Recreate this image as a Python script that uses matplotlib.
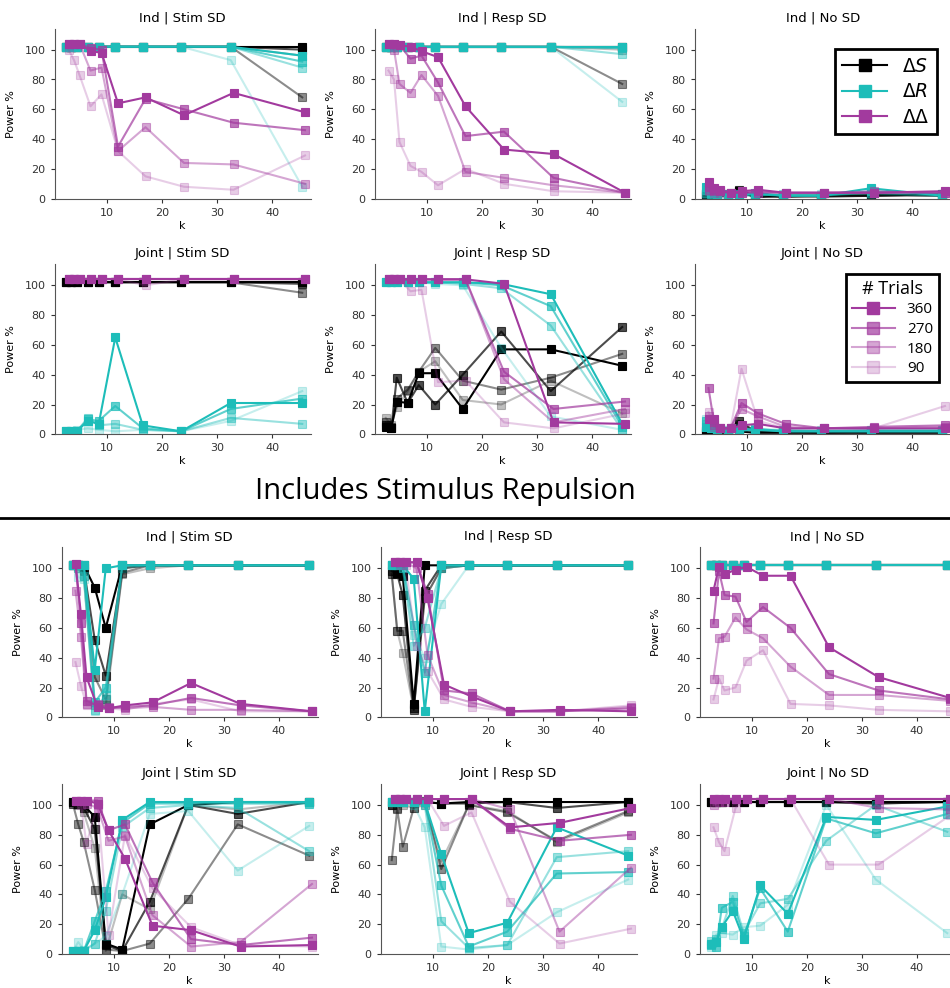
import matplotlib
matplotlib.use("Agg")
import matplotlib.pyplot as plt
from matplotlib.lines import Line2D

# k values (number of sessions); S and R series are drawn slightly left of k
K = [3, 4, 5, 7, 9, 12, 17, 24, 33, 46]
TRIALS = [360, 270, 180, 90]

# ---- top block: no stimulus repulsion ----
# each list holds the 360, 270, 180, 90 trial curves
base_ind_stim_S = [[102, 102, 102, 102, 102, 102, 102, 102, 102, 102],
                   [102, 102, 102, 102, 102, 102, 102, 102, 102, 100],
                   [102, 102, 102, 102, 102, 102, 102, 102, 102, 68],
                   [102, 102, 102, 102, 102, 102, 102, 102, 102, 96]]
base_ind_stim_R = [[102, 102, 102, 102, 102, 102, 102, 102, 102, 96],
                   [102, 102, 102, 102, 102, 102, 102, 102, 102, 92],
                   [102, 102, 102, 102, 102, 102, 102, 102, 102, 88],
                   [102, 102, 102, 102, 102, 102, 102, 102, 93, 8]]
base_ind_stim_D = [[104, 104, 104, 99, 98, 64, 68, 56, 71, 58],
                   [104, 104, 104, 101, 100, 35, 67, 60, 51, 46],
                   [104, 104, 104, 86, 88, 32, 48, 24, 23, 10],
                   [100, 93, 83, 62, 70, 32, 15, 8, 6, 29]]

base_ind_resp_S = [[102, 102, 102, 102, 102, 102, 102, 102, 102, 102],
                   [102, 102, 102, 102, 102, 102, 102, 102, 102, 102],
                   [102, 102, 102, 102, 102, 102, 102, 102, 102, 77],
                   [102, 102, 102, 102, 102, 102, 102, 102, 102, 100]]
base_ind_resp_R = [[102, 102, 102, 102, 102, 102, 102, 102, 102, 102],
                   [102, 102, 102, 102, 102, 102, 102, 102, 102, 101],
                   [102, 102, 102, 102, 102, 102, 102, 102, 102, 97],
                   [102, 102, 102, 102, 102, 102, 102, 102, 102, 65]]
base_ind_resp_D = [[104, 104, 103, 102, 99, 95, 62, 33, 30, 4],
                   [104, 104, 103, 94, 96, 78, 42, 45, 14, 4],
                   [104, 100, 77, 71, 83, 69, 18, 14, 9, 4],
                   [86, 80, 38, 22, 18, 9, 20, 10, 5, 4]]

base_ind_none_S = [[3, 2, 3, 2, 5, 1, 2, 2, 2, 3],
                   [2, 3, 2, 2, 6, 2, 1, 2, 3, 2],
                   [3, 2, 2, 3, 4, 2, 2, 1, 2, 2],
                   [2, 2, 3, 2, 3, 2, 2, 2, 2, 3]]
base_ind_none_R = [[8, 4, 3, 2, 2, 4, 2, 2, 7, 2],
                   [6, 3, 2, 3, 3, 3, 2, 2, 5, 3],
                   [4, 5, 3, 2, 2, 2, 3, 2, 4, 2],
                   [3, 2, 2, 3, 2, 3, 2, 3, 3, 2]]
base_ind_none_D = [[11, 7, 6, 4, 5, 6, 4, 4, 4, 5],
                   [8, 6, 5, 4, 4, 5, 4, 4, 4, 4],
                   [6, 5, 5, 4, 4, 4, 4, 4, 5, 4],
                   [5, 4, 4, 4, 4, 4, 4, 4, 4, 5]]

base_joint_stim_S = [[102, 102, 102, 102, 102, 102, 102, 102, 102, 102],
                     [102, 102, 102, 102, 102, 102, 102, 102, 102, 101],
                     [102, 102, 102, 102, 102, 102, 102, 102, 102, 95],
                     [102, 102, 102, 102, 102, 102, 102, 102, 102, 102]]
base_joint_stim_R = [[2, 2, 2, 9, 7, 65, 6, 2, 21, 21],
                     [2, 2, 2, 10, 9, 19, 4, 2, 17, 24],
                     [2, 2, 2, 11, 6, 7, 3, 2, 11, 7],
                     [2, 2, 3, 4, 3, 2, 3, 2, 9, 29]]
base_joint_stim_D = [[104, 104, 104, 104, 104, 104, 104, 104, 104, 104],
                     [104, 104, 104, 104, 104, 104, 104, 104, 104, 104],
                     [104, 104, 104, 104, 104, 104, 104, 104, 104, 104],
                     [104, 104, 104, 104, 104, 104, 100, 104, 104, 104]]

base_joint_resp_S = [[5, 4, 22, 21, 41, 41, 17, 57, 57, 46],
                     [6, 4, 38, 21, 33, 20, 40, 69, 29, 72],
                     [8, 5, 24, 30, 42, 58, 36, 30, 38, 54],
                     [11, 6, 18, 29, 42, 49, 23, 20, 36, 14]]
base_joint_resp_R = [[102, 102, 102, 102, 102, 102, 102, 101, 94, 7],
                     [102, 102, 102, 102, 102, 102, 102, 100, 86, 5],
                     [102, 102, 102, 102, 102, 102, 101, 98, 73, 3],
                     [102, 102, 102, 102, 102, 101, 100, 58, 12, 3]]
base_joint_resp_D = [[104, 104, 104, 104, 104, 104, 104, 101, 8, 7],
                     [104, 104, 104, 104, 104, 104, 104, 42, 17, 22],
                     [104, 104, 104, 104, 104, 104, 104, 37, 8, 17],
                     [104, 104, 104, 96, 97, 35, 36, 8, 4, 14]]

base_joint_none_S = [[1, 1, 1, 1, 2, 1, 1, 1, 1, 1],
                     [2, 1, 1, 2, 9, 2, 2, 1, 2, 2],
                     [3, 2, 1, 2, 7, 2, 2, 2, 2, 2],
                     [2, 2, 2, 2, 4, 2, 2, 2, 2, 2]]
base_joint_none_R = [[5, 4, 2, 2, 3, 3, 2, 2, 2, 2],
                     [9, 5, 2, 2, 3, 4, 2, 2, 2, 2],
                     [7, 4, 3, 2, 2, 3, 3, 2, 3, 3],
                     [10, 5, 3, 3, 4, 3, 3, 3, 3, 3]]
base_joint_none_D = [[10, 10, 4, 4, 6, 7, 4, 4, 4, 4],
                     [31, 8, 4, 4, 21, 14, 7, 4, 5, 6],
                     [12, 6, 4, 4, 17, 12, 5, 4, 4, 5],
                     [15, 5, 4, 4, 44, 9, 4, 4, 4, 19]]

# ---- bottom block: includes stimulus repulsion ----
rep_ind_stim_S = [[102, 102, 102, 87, 60, 102, 102, 102, 102, 102],
                  [102, 102, 100, 52, 28, 100, 102, 102, 102, 102],
                  [102, 102, 98, 27, 12, 97, 102, 102, 102, 102],
                  [102, 100, 95, 8, 8, 96, 100, 102, 102, 102]]
rep_ind_stim_R = [[102, 102, 102, 32, 100, 102, 102, 102, 102, 102],
                  [102, 102, 102, 10, 20, 102, 102, 102, 102, 102],
                  [102, 100, 95, 5, 15, 102, 102, 102, 102, 102],
                  [102, 94, 93, 4, 12, 100, 102, 102, 102, 102]]
rep_ind_stim_D = [[103, 69, 27, 7, 6, 8, 10, 23, 9, 4],
                  [103, 63, 11, 8, 6, 7, 8, 13, 8, 4],
                  [85, 54, 9, 9, 7, 6, 7, 5, 5, 4],
                  [37, 21, 8, 8, 6, 5, 9, 12, 4, 4]]

rep_ind_resp_S = [[102, 97, 95, 9, 102, 102, 102, 102, 102, 102],
                  [98, 96, 82, 6, 85, 102, 102, 102, 102, 102],
                  [96, 58, 58, 5, 80, 100, 102, 102, 102, 102],
                  [96, 58, 43, 5, 80, 100, 102, 102, 102, 102]]
rep_ind_resp_R = [[102, 102, 102, 93, 4, 102, 102, 102, 102, 102],
                  [102, 102, 102, 62, 30, 102, 102, 102, 102, 102],
                  [102, 102, 100, 48, 60, 100, 102, 102, 102, 102],
                  [102, 102, 100, 55, 40, 76, 102, 102, 102, 102]]
rep_ind_resp_D = [[104, 104, 104, 104, 80, 22, 14, 4, 5, 4],
                  [104, 104, 104, 104, 83, 18, 16, 4, 4, 6],
                  [104, 104, 104, 100, 42, 15, 10, 4, 4, 7],
                  [104, 102, 102, 48, 31, 12, 7, 4, 4, 8]]

rep_ind_none_S = [[102, 102, 102, 102, 102, 102, 102, 102, 102, 102],
                  [102, 102, 102, 102, 102, 102, 102, 102, 102, 102],
                  [102, 102, 102, 102, 102, 102, 102, 102, 102, 102],
                  [102, 102, 102, 102, 102, 102, 102, 102, 102, 102]]
rep_ind_none_R = [[102, 102, 102, 102, 102, 102, 102, 102, 102, 102],
                  [102, 102, 102, 102, 102, 102, 102, 102, 102, 102],
                  [102, 102, 102, 102, 102, 102, 102, 102, 102, 102],
                  [102, 102, 102, 102, 102, 102, 102, 102, 102, 102]]
rep_ind_none_D = [[85, 101, 96, 99, 101, 95, 95, 47, 27, 13],
                  [63, 98, 82, 81, 64, 74, 60, 29, 18, 12],
                  [26, 53, 54, 67, 59, 53, 34, 15, 15, 11],
                  [12, 26, 18, 20, 38, 45, 9, 8, 5, 4]]

rep_joint_stim_S = [[102, 102, 100, 92, 7, 3, 87, 100, 102, 102],
                    [102, 101, 98, 84, 6, 2, 35, 100, 94, 102],
                    [101, 87, 75, 43, 3, 2, 7, 37, 87, 66],
                    [101, 100, 95, 71, 2, 40, 30, 100, 97, 102]]
rep_joint_stim_R = [[2, 2, 2, 16, 38, 90, 102, 102, 102, 102],
                    [2, 2, 2, 22, 42, 88, 101, 101, 101, 101],
                    [2, 2, 2, 7, 29, 85, 98, 100, 98, 69],
                    [2, 8, 3, 7, 12, 40, 94, 96, 56, 86]]
rep_joint_stim_D = [[103, 103, 103, 101, 83, 64, 19, 16, 5, 6],
                    [103, 103, 103, 103, 83, 87, 48, 10, 6, 11],
                    [103, 103, 101, 98, 76, 79, 26, 5, 8, 47],
                    [103, 100, 74, 100, 13, 80, 44, 18, 6, 5]]

rep_joint_resp_S = [[102, 102, 102, 102, 102, 101, 102, 102, 102, 102],
                    [100, 102, 102, 102, 102, 101, 101, 102, 98, 102],
                    [63, 97, 72, 98, 103, 57, 100, 95, 76, 96],
                    [100, 98, 100, 98, 100, 62, 100, 96, 75, 95]]
rep_joint_resp_R = [[102, 102, 102, 102, 102, 67, 14, 21, 85, 66],
                    [102, 102, 102, 102, 102, 46, 5, 15, 54, 55],
                    [102, 102, 102, 102, 100, 22, 4, 6, 65, 69],
                    [102, 102, 102, 100, 85, 5, 3, 6, 28, 50]]
rep_joint_resp_D = [[104, 104, 104, 104, 104, 104, 104, 85, 88, 98],
                    [104, 104, 104, 104, 104, 104, 104, 84, 76, 80],
                    [104, 104, 104, 104, 104, 104, 104, 97, 15, 58],
                    [104, 104, 104, 104, 104, 86, 95, 35, 7, 17]]

rep_joint_none_S = [[102, 102, 102, 102, 102, 102, 102, 102, 102, 102],
                    [102, 102, 102, 102, 102, 102, 102, 102, 101, 102],
                    [102, 102, 102, 102, 102, 102, 102, 102, 101, 102],
                    [102, 102, 102, 102, 102, 102, 102, 102, 102, 102]]
rep_joint_none_R = [[7, 8, 18, 29, 10, 46, 27, 92, 90, 99],
                    [6, 5, 31, 35, 12, 44, 15, 91, 81, 94],
                    [9, 10, 17, 39, 14, 34, 37, 76, 100, 82],
                    [5, 13, 14, 13, 18, 19, 33, 100, 50, 14]]
rep_joint_none_D = [[104, 104, 104, 104, 104, 104, 104, 104, 104, 104],
                    [104, 104, 104, 104, 104, 104, 104, 104, 104, 104],
                    [100, 102, 102, 104, 104, 104, 104, 104, 98, 97],
                    [85, 75, 69, 98, 104, 104, 104, 60, 60, 93]]

PANELS = [
    ("Ind | Stim SD", base_ind_stim_S, base_ind_stim_R, base_ind_stim_D),
    ("Ind | Resp SD", base_ind_resp_S, base_ind_resp_R, base_ind_resp_D),
    ("Ind | No SD", base_ind_none_S, base_ind_none_R, base_ind_none_D),
    ("Joint | Stim SD", base_joint_stim_S, base_joint_stim_R, base_joint_stim_D),
    ("Joint | Resp SD", base_joint_resp_S, base_joint_resp_R, base_joint_resp_D),
    ("Joint | No SD", base_joint_none_S, base_joint_none_R, base_joint_none_D),
    ("Ind | Stim SD", rep_ind_stim_S, rep_ind_stim_R, rep_ind_stim_D),
    ("Ind | Resp SD", rep_ind_resp_S, rep_ind_resp_R, rep_ind_resp_D),
    ("Ind | No SD", rep_ind_none_S, rep_ind_none_R, rep_ind_none_D),
    ("Joint | Stim SD", rep_joint_stim_S, rep_joint_stim_R, rep_joint_stim_D),
    ("Joint | Resp SD", rep_joint_resp_S, rep_joint_resp_R, rep_joint_resp_D),
    ("Joint | No SD", rep_joint_none_S, rep_joint_none_R, rep_joint_none_D),
]

COLORS = ['#000000', '#1dbdb9', '#a23a9e']
DODGE = [-0.5, -0.5, 0.0]
ALPHAS = [1.0, 0.7, 0.45, 0.25]
LABELS = [r'$\Delta S$', r'$\Delta R$', r'$\Delta\Delta$']

W, H = 950, 988
fig = plt.figure(figsize=(W / 100, H / 100), dpi=100)

# pixel layout (x of tick "10", y of tick "0")
x10_top = [107, 427, 747]
x10_bot = [114, 433, 752]
y0_rows = [198.7, 434.3, 717.3, 954]
sx, sy = 5.5, 1.49
XMIN, XMAX, YMAX = 0.5, 47, 114

axes = []
for i, (title, S, R, D) in enumerate(PANELS):
    row, col = divmod(i, 3)
    x10 = x10_top[col] if row < 2 else x10_bot[col]
    left = x10 - (10 - XMIN) * sx
    ax = fig.add_axes([left / W, (H - y0_rows[row]) / H,
                       (XMAX - XMIN) * sx / W, YMAX * sy / H])
    for m, series in enumerate([S, R, D]):
        xs = [k + DODGE[m] for k in K]
        for t in range(3, -1, -1):
            ax.plot(xs, series[t], '-s', color=COLORS[m], alpha=ALPHAS[t],
                    lw=1.5, ms=6, mew=0.8)
    ax.set_xlim(XMIN, XMAX)
    ax.set_ylim(0, YMAX)
    ax.set_xticks([10, 20, 30, 40])
    ax.set_yticks([0, 20, 40, 60, 80, 100])
    ax.tick_params(labelsize=8, colors='#333333', length=3)
    for side in ['top', 'right']:
        ax.spines[side].set_visible(False)
    for side in ['left', 'bottom']:
        ax.spines[side].set_color('#555555')
    ax.set_title(title, fontsize=9.5, pad=5)
    ax.set_xlabel('k', fontsize=8, labelpad=2)
    ax.set_ylabel('Power %', fontsize=8, labelpad=6)
    axes.append(ax)

# measure legend
h1 = [Line2D([], [], color=c, marker='s', lw=1.5, ms=9) for c in COLORS]
leg1 = axes[2].legend(h1, LABELS, loc='upper right', bbox_to_anchor=(0.985, 0.935),
                      fontsize=13.5, fancybox=False, framealpha=1, borderpad=0.4,
                      handlelength=2.4, labelspacing=0.35)
leg1.get_frame().set_edgecolor('black')
leg1.get_frame().set_linewidth(2)

# trial legend
h2 = [Line2D([], [], color=COLORS[2], alpha=a, marker='s', lw=1.5, ms=9) for a in ALPHAS]
leg2 = axes[5].legend(h2, [str(t) for t in TRIALS], loc='upper right',
                      bbox_to_anchor=(0.985, 0.99), title='# Trials',
                      prop={'family': 'Open Sans', 'size': 11},
                      fancybox=False, framealpha=1, borderpad=0.4,
                      handlelength=2.8, labelspacing=0.3)
leg2.get_title().set_fontfamily('Open Sans')
leg2.get_title().set_fontsize(13)
leg2.get_frame().set_edgecolor('black')
leg2.get_frame().set_linewidth(2)

fig.text(445 / W, 1 - 492 / H, 'Includes Stimulus Repulsion', ha='center', va='center',
         fontsize=21, family='Open Sans')
fig.add_artist(Line2D([0, 1], [1 - 518 / H, 1 - 518 / H], color='black', lw=2,
                      transform=fig.transFigure))

fig.savefig('out.png', dpi=100)
